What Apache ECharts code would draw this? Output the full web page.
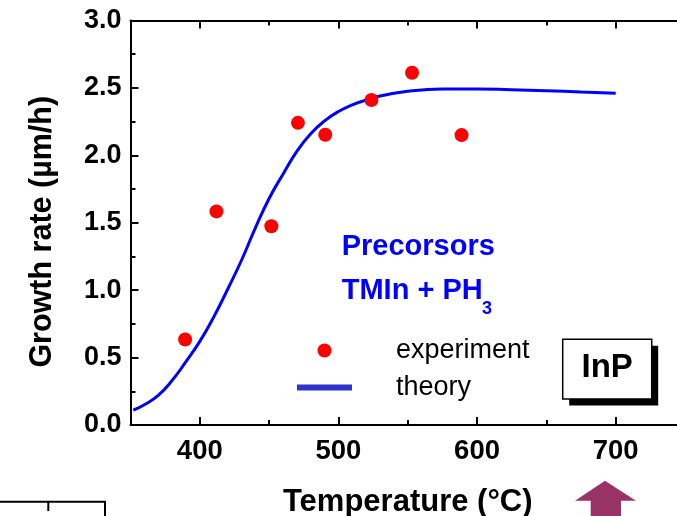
<!DOCTYPE html>
<html>
<head>
<meta charset="utf-8">
<script src="https://cdn.jsdelivr.net/npm/echarts@6/dist/echarts.min.js"></script>
<style>
html,body{margin:0;padding:0;background:#fff;}
#chart{width:677px;height:516px;}
</style>
</head>
<body>
<div id="chart"></div>
<script>
// ---- data ----
const expT    = [389.4, 412.0, 451.6, 470.8, 490.5, 523.8, 553.1, 588.8];
const expRate = [0.634, 1.584, 1.474, 2.241, 2.153, 2.410, 2.612, 2.150];

const theoryT    = [352, 360, 370, 380, 390, 400, 410, 420, 430, 440, 450, 460, 470, 480, 490, 500, 510, 520, 530, 540, 550, 560, 575, 600, 625, 650, 675, 700];
const theoryRate = [0.11, 0.15, 0.22, 0.33, 0.47, 0.62, 0.80, 1.005, 1.22, 1.46, 1.68, 1.86, 2.03, 2.16, 2.255, 2.325, 2.375, 2.41, 2.44, 2.46, 2.475, 2.485, 2.492, 2.492, 2.486, 2.479, 2.470, 2.460];

const xMajorTicks = [400, 500, 600, 700];
const xMinorTicks = [450, 550, 650];
const yTickLabels = [0, 0.5, 1.0, 1.5, 2.0, 2.5, 3.0];

const FONT = '"Liberation Sans", Arial, Helvetica, sans-serif';

const chart = echarts.init(document.getElementById('chart'), null, {renderer: 'canvas'});

function xAx(position, ticks, len, showLine, showLabel) {
  return {
    type: 'value', min: 350, max: 750, position: position,
    axisLine: {show: showLine, onZero: false, lineStyle: {color: '#000', width: 2}},
    axisTick: {show: true, inside: true, length: len, customValues: ticks, lineStyle: {color: '#000', width: 2}},
    axisLabel: showLabel ? {show: true, customValues: ticks, color: '#000', fontSize: 27.5, fontWeight: 'bold', fontFamily: FONT, margin: 12} : {show: false},
    splitLine: {show: false}
  };
}
function yAx(position, showLabel) {
  return {
    type: 'value', min: 0, max: 3, interval: 0.5, position: position,
    axisLine: {show: true, onZero: false, lineStyle: {color: '#000', width: 2}},
    axisTick: {show: true, inside: true, length: 8, lineStyle: {color: '#000', width: 2}},
    minorTick: {show: true, splitNumber: 2, length: 5, lineStyle: {color: '#000', width: 2}},
    axisLabel: showLabel ? {show: true, color: '#000', fontSize: 27, fontWeight: 'bold', fontFamily: FONT, margin: 9,
      formatter: v => yTickLabels.indexOf(v) >= 0 ? v.toFixed(1) : ''} : {show: false},
    splitLine: {show: false}
  };
}

const xMain = xAx('bottom', xMajorTicks, 8, true, true);
xMain.name = 'Temperature (°C)';
xMain.nameLocation = 'middle';
xMain.nameGap = 62;
xMain.nameTextStyle = {color: '#000', fontSize: 31, fontWeight: 'bold', fontFamily: FONT};

const yMain = yAx('left', true);
yMain.name = 'Growth rate (µm/h)';
yMain.nameLocation = 'middle';
yMain.nameGap = 72;
yMain.nameTextStyle = {color: '#000', fontSize: 30.5, fontWeight: 'bold', fontFamily: FONT, padding: [0, 18, 0, 0]};

const option = {
  backgroundColor: '#fff',
  animation: false,
  grid: {left: 130.5, right: -8, top: 20.5, bottom: 91, containLabel: false, outerBoundsMode: 'none'},
  xAxis: [
    xMain,
    xAx('bottom', xMinorTicks, 5, false, false),
    xAx('top', xMajorTicks, 8, true, false),
    xAx('top', xMinorTicks, 5, false, false)
  ],
  yAxis: [yMain, yAx('right', false)],
  legend: {
    orient: 'vertical', left: 292, top: 332,
    itemWidth: 55, itemHeight: 14, itemGap: 10,
    textStyle: {color: '#000', fontSize: 27, fontFamily: FONT, padding: [0, 0, 0, 39]},
    data: [
      {name: 'experiment'},
      {name: 'theory', icon: 'path://M0,0H55V6H0Z', itemStyle: {color: '#3333cc'}}
    ]
  },
  series: [
    {
      name: 'theory', type: 'line', smooth: true, symbol: 'none', showSymbol: false,
      xAxisIndex: 0, yAxisIndex: 0, z: 2,
      lineStyle: {color: '#0000ff', width: 3},
      itemStyle: {color: '#0000ff'},
      data: theoryT.map((t, i) => [t, theoryRate[i]])
    },
    {
      name: 'experiment', type: 'scatter', symbol: 'circle', symbolSize: 14,
      xAxisIndex: 0, yAxisIndex: 0, z: 3,
      itemStyle: {color: '#ff0000', opacity: 1},
      data: expT.map((t, i) => [t, expRate[i]])
    }
  ],
  graphic: [
    {type: 'text', x: 341.7, y: 247, style: {text: 'Precorsors', fill: '#0000ff', fontSize: 29, fontWeight: 'bold', fontFamily: FONT, verticalAlign: 'middle', align: 'left'}},
    {type: 'text', x: 341.7, y: 290.5, style: {text: 'TMIn + PH', fill: '#0000ff', fontSize: 29, fontWeight: 'bold', fontFamily: FONT, verticalAlign: 'middle', align: 'left'}},
    {type: 'text', x: 482, y: 309, style: {text: '3', fill: '#0000ff', fontSize: 18, fontWeight: 'bold', fontFamily: FONT, verticalAlign: 'middle', align: 'left'}},
    {type: 'rect', shape: {x: 569.2, y: 345.8, width: 89, height: 59.7}, style: {fill: '#000'}},
    {type: 'rect', shape: {x: 562.7, y: 339.3, width: 89, height: 59.7}, style: {fill: '#fff', stroke: '#000', lineWidth: 1.5}},
    {type: 'text', x: 607.2, y: 367.5, style: {text: 'InP', fill: '#000', fontSize: 33, fontWeight: 'bold', fontFamily: FONT, verticalAlign: 'middle', align: 'center'}},
    {type: 'polygon', shape: {points: [[605, 480.7], [636, 500.7], [621, 500.7], [621, 520], [590.7, 520], [590.7, 500.7], [575, 500.7]]}, style: {fill: '#993366'}},
    {type: 'polyline', shape: {points: [[-2, 501.7], [105, 501.7], [105, 520]]}, style: {stroke: '#000', lineWidth: 2, fill: null}},
    {type: 'line', shape: {x1: 48.3, y1: 501.7, x2: 48.3, y2: 511}, style: {stroke: '#000', lineWidth: 2}}
  ]
};
chart.setOption(option);
</script>
</body>
</html>
